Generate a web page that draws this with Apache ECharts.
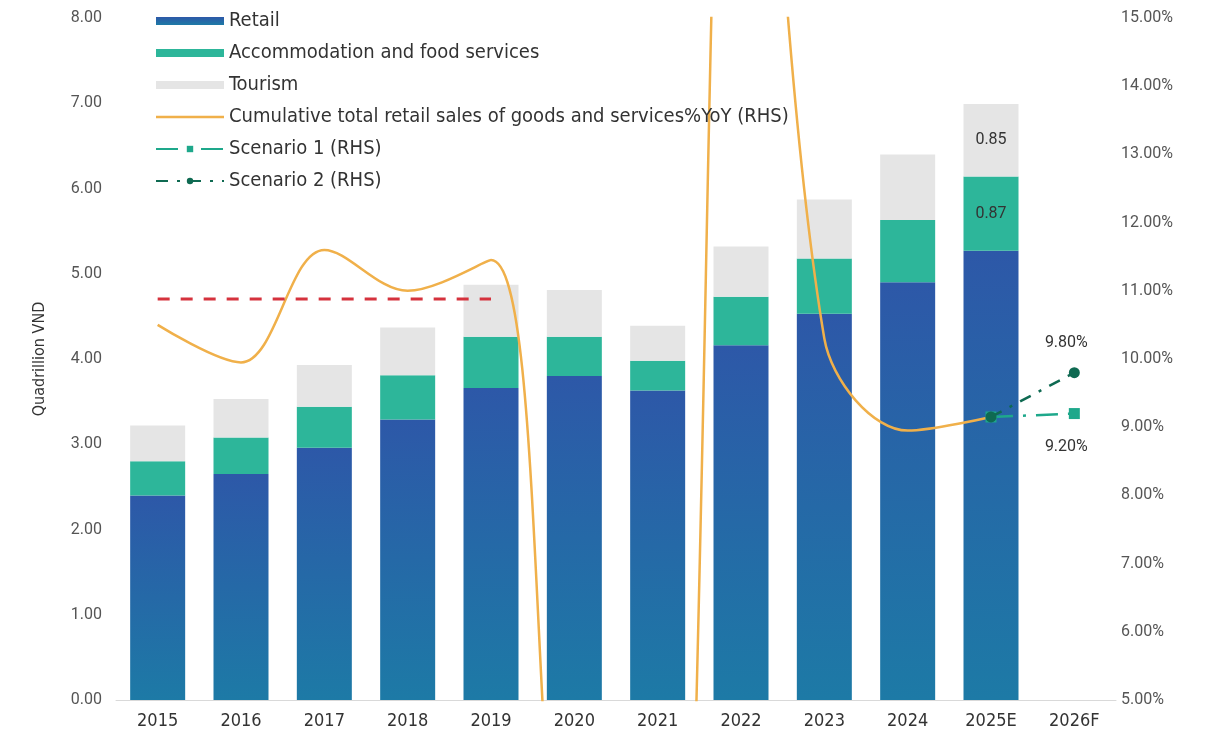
<!DOCTYPE html>
<html>
<head>
<meta charset="utf-8">
<script src="https://cdn.jsdelivr.net/npm/echarts@6/dist/echarts.min.js"></script>
<style>
  html, body { margin: 0; padding: 0; background: #ffffff; }
  #chart { width: 1227px; height: 733px; }
</style>
</head>
<body>
<div id="chart"></div>
<script>
// Categories (years)
const years = ['2015', '2016', '2017', '2018', '2019', '2020', '2021', '2022', '2023', '2024', '2025E', '2026F'];

// Stacked components, quadrillion VND
const retail =        [2.40, 2.65, 2.96, 3.29, 3.66, 3.80, 3.63, 4.16, 4.53, 4.90, 5.27, null];
const accommodation = [0.40, 0.43, 0.48, 0.52, 0.60, 0.46, 0.35, 0.57, 0.65, 0.73, 0.87, null];
const tourism =       [0.42, 0.45, 0.49, 0.56, 0.61, 0.55, 0.41, 0.59, 0.69, 0.77, 0.85, null];

// Cumulative total retail sales of goods and services, % YoY (right axis)
const retailGrowth = [10.50, 9.95, 11.60, 11.00, 11.45, -0.50, -3.80, 23.50, 10.30, 8.95, 9.15, null];

// Pre-2020 average growth reference
const preCovidAvg = [10.88, 10.88, 10.88, 10.88, 10.88, null, null, null, null, null, null, null];

// Forecast scenarios (right axis)
const scenario1 = [null, null, null, null, null, null, null, null, null, null, 9.15, 9.20];
const scenario2 = [null, null, null, null, null, null, null, null, null, null, 9.15, 9.80];

// Axis ticks
const leftAxis = { min: 0, max: 8, interval: 1 };
const rightAxis = { min: 5, max: 15, interval: 1 };

const LABEL_IDX = years.indexOf('2025E');
const LAST_IDX = years.length - 1;

const narrowFont = '"Liberation Sans Narrow", "DejaVu Sans Condensed", "Roboto Condensed", Roboto, sans-serif';
const tickFont = 'Roboto, "Open Sans", sans-serif';

const chart = echarts.init(document.getElementById('chart'), null, { renderer: 'canvas' });

const onlyAt = (idx, fmt) => p => (p.dataIndex === idx && p.value != null) ? fmt(p.value) : '';

chart.setOption({
  animation: false,
  backgroundColor: '#ffffff',
  grid: { left: 116, right: 111, top: 18, bottom: 33, containLabel: false },
  legend: {
    orient: 'vertical',
    left: 150,
    top: 6,
    itemWidth: 68,
    itemHeight: 8,
    itemGap: 12,
    textStyle: { fontFamily: narrowFont, fontSize: 20, color: '#333333' },
    data: [
      { name: 'Retail', icon: 'rect' },
      { name: 'Accommodation and food services', icon: 'rect' },
      { name: 'Tourism', icon: 'rect' },
      { name: 'Cumulative total retail sales of goods and services%YoY (RHS)',
        icon: 'path://M0,0 L68,0 L68,2.5 L0,2.5 Z' },
      { name: 'Scenario 1 (RHS)' },
      { name: 'Scenario 2 (RHS)' }
    ]
  },
  xAxis: {
    type: 'category',
    data: years,
    boundaryGap: true,
    axisLine: { show: true, lineStyle: { color: '#d9d9d9', width: 1 } },
    axisTick: { show: false },
    axisLabel: { fontFamily: narrowFont, fontSize: 18, color: '#333333', margin: 12 }
  },
  yAxis: [
    {
      type: 'value',
      min: leftAxis.min, max: leftAxis.max, interval: leftAxis.interval,
      name: 'Quadrillion VND',
      nameLocation: 'middle',
      nameGap: 68,
      nameTextStyle: { fontFamily: narrowFont, fontSize: 16, color: '#333333' },
      axisLine: { show: false },
      axisTick: { show: false },
      splitLine: { show: false },
      axisLabel: { fontFamily: tickFont, fontSize: 16, color: '#555555', margin: 14,
        formatter: v => v.toFixed(2) }
    },
    {
      type: 'value',
      min: rightAxis.min, max: rightAxis.max, interval: rightAxis.interval,
      axisLine: { show: false },
      axisTick: { show: false },
      splitLine: { show: false },
      axisLabel: { fontFamily: tickFont, fontSize: 16, color: '#555555', margin: 5,
        formatter: v => v.toFixed(2) + '%' }
    }
  ],
  series: [
    {
      name: 'Retail',
      type: 'bar',
      stack: 'total',
      barWidth: '66%',
      data: retail,
      itemStyle: {
        color: new echarts.graphic.LinearGradient(0, 0, 0, 1, [
          { offset: 0, color: '#2d58a8' },
          { offset: 1, color: '#1d7aa6' }
        ])
      }
    },
    {
      name: 'Accommodation and food services',
      type: 'bar',
      stack: 'total',
      data: accommodation,
      itemStyle: { color: '#2db69a' },
      label: {
        show: true, position: 'inside',
        fontFamily: tickFont, fontSize: 16, color: '#333333',
        formatter: onlyAt(LABEL_IDX, v => v.toFixed(2))
      }
    },
    {
      name: 'Tourism',
      type: 'bar',
      stack: 'total',
      data: tourism,
      itemStyle: { color: '#e5e5e5' },
      label: {
        show: true, position: 'inside',
        fontFamily: tickFont, fontSize: 16, color: '#333333',
        formatter: onlyAt(LABEL_IDX, v => v.toFixed(2))
      }
    },
    {
      name: 'Cumulative total retail sales of goods and services%YoY (RHS)',
      type: 'line',
      yAxisIndex: 1,
      data: retailGrowth,
      smooth: 0.35,
      symbol: 'none',
      clip: true,
      lineStyle: { color: '#f0b04a', width: 2.5 },
      itemStyle: { color: '#f0b04a' },
      z: 3
    },
    {
      name: 'Pre-2020 average',
      type: 'line',
      yAxisIndex: 1,
      data: preCovidAvg,
      symbol: 'none',
      lineStyle: { color: '#d5323d', width: 3, type: [12, 11] },
      z: 3
    },
    {
      name: 'Scenario 1 (RHS)',
      type: 'line',
      yAxisIndex: 1,
      data: scenario1,
      symbol: 'rect',
      symbolSize: 11,
      showAllSymbol: true,
      lineStyle: { color: '#1ea88b', width: 2.5, type: [22, 10, 3, 10] },
      itemStyle: { color: '#1ea88b' },
      label: {
        show: true, position: 'bottom', distance: 20, offset: [-8, 0],
        fontFamily: tickFont, fontSize: 16, color: '#333333',
        formatter: onlyAt(LAST_IDX, v => v.toFixed(2) + '%')
      },
      z: 4
    },
    {
      name: 'Scenario 2 (RHS)',
      type: 'line',
      yAxisIndex: 1,
      data: scenario2,
      symbol: 'circle',
      symbolSize: 11,
      showAllSymbol: true,
      lineStyle: { color: '#0f6a52', width: 2.5, type: [12, 9, 3, 9] },
      itemStyle: { color: '#0f6a52' },
      label: {
        show: true, position: 'top', distance: 16, offset: [-8, 0],
        fontFamily: tickFont, fontSize: 16, color: '#333333',
        formatter: onlyAt(LAST_IDX, v => v.toFixed(2) + '%')
      },
      z: 5
    }
  ]
});
</script>
</body>
</html>
